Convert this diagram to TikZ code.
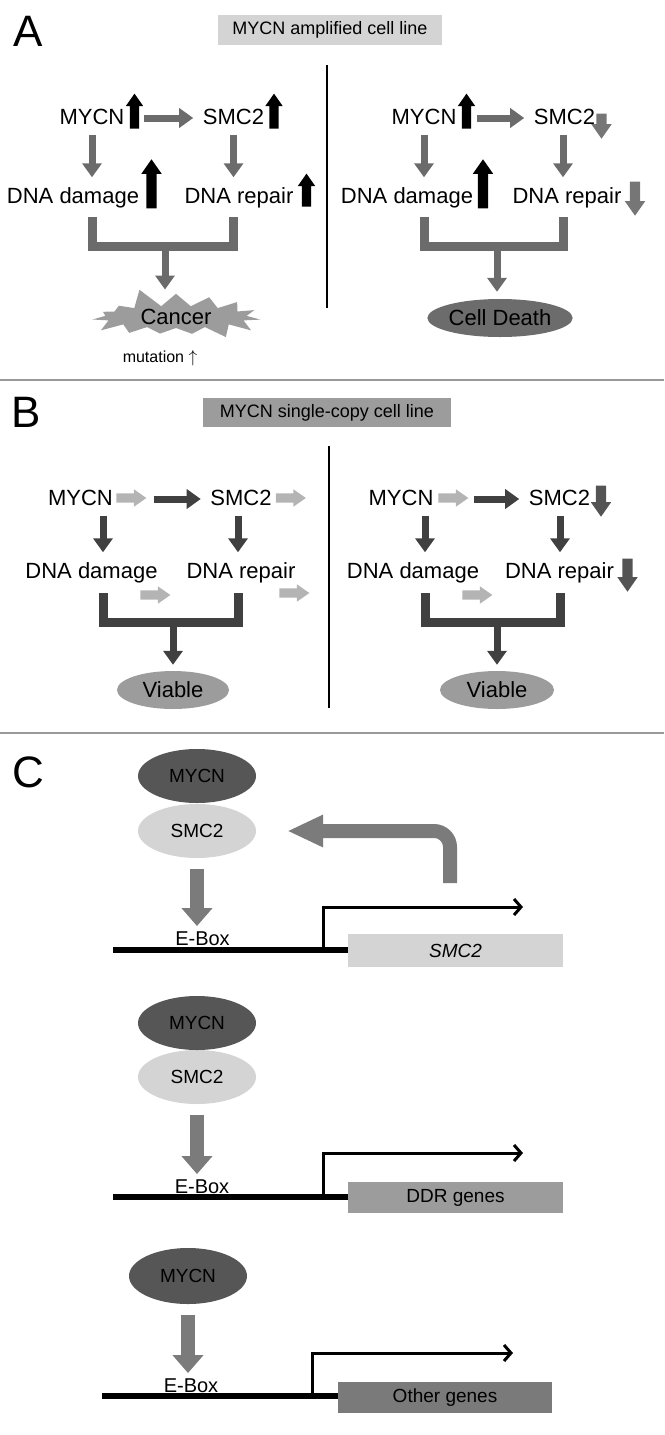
\documentclass[tikz,border=0pt]{standalone}
\usepackage{fontspec}
\setmainfont{Liberation Sans}
\definecolor{flowgray}{RGB}{107,107,107}
\definecolor{flowdark}{RGB}{64,64,64}
\definecolor{flowlight}{RGB}{180,180,180}
\definecolor{downgray}{RGB}{118,118,118}
\definecolor{downdark}{RGB}{84,84,84}
\definecolor{boxlight}{RGB}{212,212,212}
\definecolor{boxmid}{RGB}{156,156,156}
\definecolor{boxdark}{RGB}{108,108,108}
\definecolor{protdark}{RGB}{86,86,86}
\definecolor{arrowC}{RGB}{123,123,123}
\definecolor{othergray}{RGB}{122,122,122}
\usetikzlibrary{arrows.meta,positioning,shapes.geometric,shapes.arrows,shapes.symbols,calc}

\begin{document}
\begin{tikzpicture}[x=1pt, y=-1pt,
  panel/.style={font=\fontsize{44}{48}\selectfont, inner sep=0pt},
  title/.style={font=\fontsize{18}{22}\selectfont, inner sep=0pt},
  lbl/.style={font=\fontsize{22}{26}\selectfont, inner sep=0.5pt, text height=16pt, text depth=4pt, anchor=base},
  ind/.style={single arrow, inner xsep=0pt, inner ysep=4.5pt, outer sep=0pt, single arrow head extend=4pt, single arrow tip angle=70},
  bigind/.style={ind, inner ysep=5pt, single arrow head extend=5pt},
  conA/.style={draw=flowgray, line width=7pt, -{Triangle[width=19pt,length=14pt]}, shorten <=6pt, shorten >=9pt},
  conB/.style={conA, draw=flowdark},
  brk/.style={line width=9pt, line join=miter},
  outc/.style={ellipse, inner sep=0pt, minimum width=114pt, minimum height=38pt, font=\fontsize{22}{26}\selectfont},
  prot/.style={ellipse, inner sep=0pt, minimum width=118pt, minimum height=54pt, font=\fontsize{19}{22}\selectfont},
  gene/.style={inner sep=0pt, minimum width=215pt, minimum height=32pt, font=\fontsize{19}{22}\selectfont},
  ebox/.style={font=\fontsize{20}{24}\selectfont, inner sep=1pt, anchor=base},
  carr/.style={draw=arrowC, line width=14pt, -{Triangle[width=30pt,length=18pt]}, shorten <=11pt, shorten >=4pt},
  dna/.style={line width=6pt},
  prom/.style={line width=3pt, -{Straight Barb[length=7pt,width=16pt]}}]
\useasboundingbox (0,0) rectangle (664,1435);

% panel A
\node[panel] (pA) at (28.5,31) {A};
\node[title, fill=boxlight, minimum width=224pt, minimum height=30pt] (ttlA) at (330,30) {MYCN amplified cell line};
\draw[line width=2.5pt] (327,65) -- (327,308);

\node[lbl] (aLmycn) at (92,124) {MYCN};
\node[lbl] (aLsmc) at (233.5,124) {SMC2};
\node[lbl] (aLdmg) at (73,203) {DNA damage};
\node[lbl] (aLrep) at (239,203) {DNA repair};
\node[ind, fill=black, minimum height=35pt, rotate=90] (aLup1) at (134.5,114.5) {};
\node[ind, fill=black, minimum height=35pt, rotate=90] (aLup2) at (274,114.5) {};
\node[bigind, fill=black, minimum height=49pt, rotate=90] (aLup3) at (151.5,187.5) {};
\node[ind, fill=black, minimum height=33pt, rotate=90] (aLup4) at (306.5,193.5) {};
\coordinate (aLb1) at (92,217);
\coordinate (aLb2) at (233.5,217);
\coordinate (aLj) at (165,246);
\draw[conA] ([xshift=13pt]aLmycn.east) -- (aLsmc.west);
\draw[conA] (aLmycn.south -| aLb1) -- (aLb1 |- aLdmg.north);
\draw[conA] (aLsmc.south -| aLb2) -- (aLb2 |- aLrep.north);
\draw[brk, draw=flowgray] (aLb1) -- (aLb1 |- aLj) -- (aLb2 |- aLj) -- (aLb2);
\node[starburst, starburst points=15, starburst point height=20pt, random starburst=5, fill=boxmid, inner sep=0pt, minimum width=182pt, minimum height=60pt, font=\fontsize{22}{26}\selectfont] (cancer) at (176,317) {Cancer};
\draw[conA, shorten <=0pt, shorten >=4pt] (aLj) -- (aLj |- cancer.north);
\node[font=\fontsize{16}{19}\selectfont] (mut) at (160,358) {mutation $\uparrow$};

\node[lbl] (aRmycn) at (424,124) {MYCN};
\node[lbl] (aRsmc) at (564.5,124) {SMC2};
\node[lbl] (aRdmg) at (407,203) {DNA damage};
\node[lbl] (aRrep) at (567,203) {DNA repair};
\node[ind, fill=black, minimum height=35pt, rotate=90] (aRup1) at (466.5,114.5) {};
\node[bigind, fill=downgray, minimum height=25pt, rotate=-90] (aRdn1) at (601.5,122.5) {};
\node[bigind, fill=black, minimum height=49pt, rotate=90] (aRup3) at (483,187.5) {};
\node[bigind, fill=downgray, minimum height=34pt, rotate=-90] (aRdn2) at (635,195) {};
\coordinate (aRb1) at (424,217);
\coordinate (aRb2) at (563,217);
\coordinate (aRj) at (497,246);
\draw[conA] ([xshift=14pt]aRmycn.east) -- (aRsmc.west);
\draw[conA] (aRmycn.south -| aRb1) -- (aRb1 |- aRdmg.north);
\draw[conA] (aRsmc.south -| aRb2) -- (aRb2 |- aRrep.north);
\draw[brk, draw=flowgray] (aRb1) -- (aRb1 |- aRj) -- (aRb2 |- aRj) -- (aRb2);
\node[outc, fill=boxdark, minimum width=143pt] (death) at (500,318) {Cell Death};
\draw[conA, shorten <=0pt, shorten >=7pt] (aRj) -- (aRj |- death.north);

\draw[draw=gray!80, line width=1.2pt] (0,380) -- (664,380);

% panel B
\node[panel] (pB) at (26.5,412) {B};
\node[title, fill=boxmid, minimum width=248pt, minimum height=29pt] (ttlB) at (327,412.5) {MYCN single-copy cell line};
\draw[line width=2.5pt] (329,446) -- (329,708);

\node[lbl] (bLmycn) at (80.5,505) {MYCN};
\node[lbl] (bLsmc) at (241,505) {SMC2};
\node[lbl] (bLdmg) at (91.5,578) {DNA damage};
\node[lbl] (bLrep) at (241,578) {DNA repair};
\node[ind, fill=flowlight, minimum height=30pt] (bLl1) at (128,498) {};
\node[ind, fill=flowlight, minimum height=30pt] (bLl2) at (287.5,498) {};
\node[ind, fill=flowlight, minimum height=30pt] (bLl3) at (152,595) {};
\node[ind, fill=flowlight, minimum height=30pt] (bLl4) at (291,593) {};
\coordinate (bLb1) at (103,593);
\coordinate (bLb2) at (238,593);
\coordinate (bLj) at (173,622);
\draw[conB] ([xshift=34pt]bLmycn.east) -- (bLsmc.west);
\draw[conB] (bLmycn.south -| bLb1) -- (bLb1 |- bLdmg.north);
\draw[conB] (bLsmc.south -| bLb2) -- (bLb2 |- bLrep.north);
\draw[brk, draw=flowdark] (bLb1) -- (bLb1 |- bLj) -- (bLb2 |- bLj) -- (bLb2);
\node[outc, fill=boxmid, minimum width=112pt] (viaL) at (173,690) {Viable};
\draw[conB, shorten <=0pt, shorten >=6pt] (bLj) -- (bLj |- viaL.north);

\node[lbl] (bRmycn) at (401,505) {MYCN};
\node[lbl] (bRsmc) at (559.5,505) {SMC2};
\node[lbl] (bRdmg) at (413,578) {DNA damage};
\node[lbl] (bRrep) at (559.5,578) {DNA repair};
\node[ind, fill=flowlight, minimum height=30pt] (bRl1) at (450,498) {};
\node[bigind, fill=downdark, minimum height=31pt, rotate=-90] (bRdn1) at (601,497.5) {};
\node[ind, fill=flowlight, minimum height=30pt] (bRl3) at (474,595) {};
\node[bigind, fill=downdark, minimum height=33pt, rotate=-90] (bRdn2) at (627.5,571.5) {};
\coordinate (bRb1) at (425,593);
\coordinate (bRb2) at (560,593);
\coordinate (bRj) at (497,622);
\draw[conB] ([xshift=34pt]bRmycn.east) -- (bRsmc.west);
\draw[conB] (bRmycn.south -| bRb1) -- (bRb1 |- bRdmg.north);
\draw[conB] (bRsmc.south -| bRb2) -- (bRb2 |- bRrep.north);
\draw[brk, draw=flowdark] (bRb1) -- (bRb1 |- bRj) -- (bRb2 |- bRj) -- (bRb2);
\node[outc, fill=boxmid, minimum width=114pt] (viaR) at (497,690) {Viable};
\draw[conB, shorten <=0pt, shorten >=6pt] (bRj) -- (bRj |- viaR.north);

\draw[draw=gray!80, line width=1.2pt] (0,733) -- (664,733);

% panel C
\node[panel] (pC) at (28,772) {C};

\node[prot, fill=boxlight] (csmc1) at (197,831) {SMC2};
\node[prot, fill=protdark] (cmycn1) at (197,776) {MYCN};
\node[ebox] (ebox1) at (202.5,945) {E-Box};
\node[gene, fill=boxlight, minimum height=33pt] (gene1) at (455.5,950.5) {\itshape SMC2};
\coordinate (dna1) at (113,950);
\coordinate (tss1) at (323,950);
\coordinate (txe1) at (523,907);
\coordinate (fb1) at (450,883);
\draw[dna] (dna1) -- (dna1 -| gene1.west);
\draw[prom] (tss1) |- (txe1);
\draw[carr] (csmc1.south) -- (csmc1.south |- ebox1.north);
\draw[draw=arrowC, line width=14pt, rounded corners=16pt, -{Triangle[width=30pt,length=36pt]}, shorten >=31pt] (fb1) |- (csmc1.east);

\node[prot, fill=boxlight] (csmc2) at (197,1077) {SMC2};
\node[prot, fill=protdark] (cmycn2) at (197,1023) {MYCN};
\node[ebox] (ebox2) at (202,1193) {E-Box};
\node[gene, fill=boxmid, minimum height=31pt] (gene2) at (455.5,1197.5) {DDR genes};
\coordinate (dna2) at (113,1197);
\coordinate (tss2) at (323,1197);
\coordinate (txe2) at (523,1153);
\draw[dna] (dna2) -- (dna2 -| gene2.west);
\draw[prom] (tss2) |- (txe2);
\draw[carr] (csmc2.south) -- (csmc2.south |- ebox2.north);

\node[prot, fill=protdark, minimum height=56pt] (cmycn3) at (188,1276) {MYCN};
\node[ebox] (ebox3) at (191,1392) {E-Box};
\node[gene, fill=othergray, minimum width=214pt, minimum height=31pt] (gene3) at (445,1397.5) {Other genes};
\coordinate (dna3) at (102,1396);
\coordinate (tss3) at (312,1396);
\coordinate (txe3) at (513,1353);
\draw[dna] (dna3) -- (dna3 -| gene3.west);
\draw[prom] (tss3) |- (txe3);
\draw[carr] (cmycn3.south) -- (cmycn3.south |- ebox3.north);
\end{tikzpicture}
\end{document}
